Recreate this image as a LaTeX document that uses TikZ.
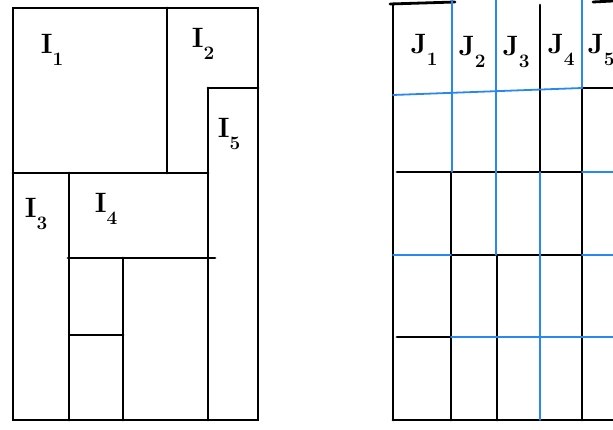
\documentclass[tikz,border=0pt]{standalone}
\usepackage{fontspec}
\usepackage{xcolor}
\usepackage{tikz}
\definecolor{penblue}{RGB}{40,135,240}
\newcommand{\sublab}[2]{#1\raisebox{-0.45em}{\fontsize{19}{19}\selectfont #2}}

\begin{document}
\begin{tikzpicture}[x=1pt,y=-1pt,line width=2.8pt,line cap=round,
    bluepen/.style={penblue,line width=1.8pt},
    lbl/.style={font=\fontsize{28}{30}\selectfont\bfseries}]
    \useasboundingbox (0,0) rectangle (613,430);
    \clip (0,0) rectangle (613,430);
    % Left diagram
    \draw (13,8) rectangle (258,420);
    \draw (167,8) -- (167,173);
    \draw (13,173) -- (208,173);
    \draw (208,88) -- (258,88);
    \draw (208,88) -- (208,420);
    \draw (69,173) -- (69,420);
    \draw (68,258) -- (215,258);
    \draw (123,258) -- (123,420);
    \draw (70,335) -- (123,335);
    \node[lbl] (i1) at (52,50) {\sublab{I}{1}};
    \node[lbl] (i2) at (203,44) {\sublab{I}{2}};
    \node[lbl] (i5) at (229,134) {\sublab{I}{5}};
    \node[lbl] (i3) at (36,214) {\sublab{I}{3}};
    \node[lbl] (i4) at (106,209) {\sublab{I}{4}};

    % Right diagram
    \draw (390,4) -- (455,2);
    \draw (593,2) -- (613,1);
    \draw (393,4) -- (393,420);
    \draw (393,420) -- (613,420);
    \draw (540,5) -- (540,172);
    \draw (451,172) -- (451,420);
    \draw (497,255) -- (497,420);
    \draw (582,88) -- (582,420);
    \draw (397,172) -- (582,172);
    \draw (451,255) -- (582,255);
    \draw (397,337) -- (451,337);
    \draw (582,88) -- (613,88);
    \draw[bluepen] (452,0) -- (452,172);
    \draw[bluepen] (496,0) -- (496,255);
    \draw[bluepen] (540,172) -- (540,420);
    \draw[bluepen] (582,0) -- (582,88);
    \draw[bluepen] (393,95) -- (582,88);
    \draw[bluepen] (582,172) -- (613,172);
    \draw[bluepen] (393,255) -- (451,255);
    \draw[bluepen] (582,255) -- (613,255);
    \draw[bluepen] (451,337) -- (613,337);
    \node[lbl] (j1) at (424,50) {\sublab{J}{1}};
    \node[lbl] (j2) at (472,52) {\sublab{J}{2}};
    \node[lbl] (j3) at (516,52) {\sublab{J}{3}};
    \node[lbl] (j4) at (561,50) {\sublab{J}{4}};
    \node[lbl] (j5) at (601,50) {\sublab{J}{5}};
\end{tikzpicture}
\end{document}
